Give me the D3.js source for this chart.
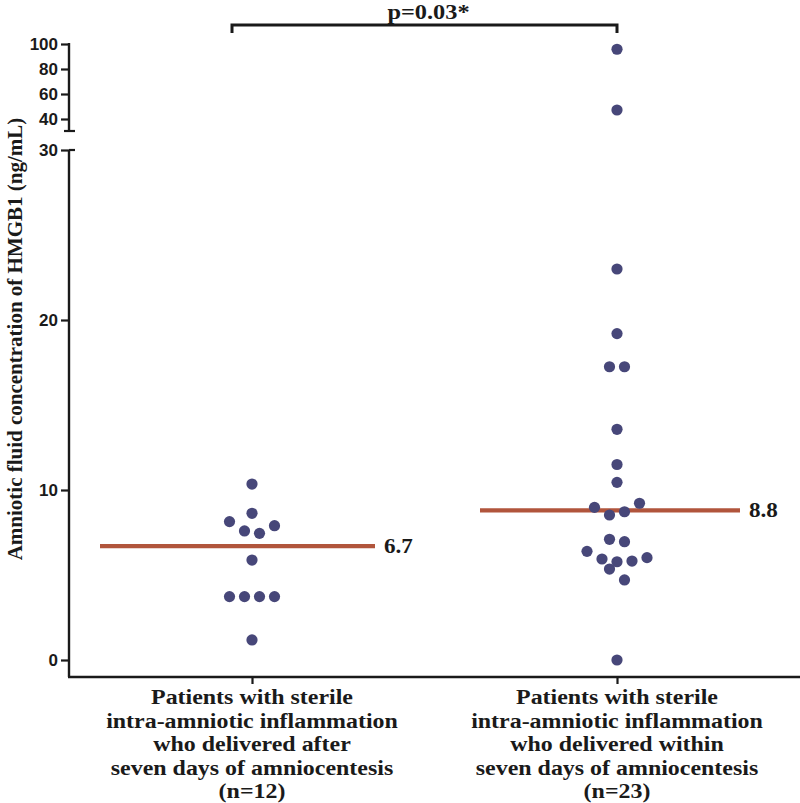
<!DOCTYPE html>
<html>
<head>
<meta charset="utf-8">
<script src="https://cdn.jsdelivr.net/npm/d3@7/dist/d3.min.js"></script>
<style>
  body { margin: 0; background: #fff; }
  svg { display: block; }
</style>
</head>
<body>
<div id="drawing"></div>
<script>
// values (ng/mL), array order = left-to-right within a row
var groups = ["after", "within"];
var groupLines = [
    ["Patients with sterile", "intra-amniotic inflammation", "who delivered after", "seven days of amniocentesis", "(n=12)"],
    ["Patients with sterile", "intra-amniotic inflammation", "who delivered within", "seven days of amniocentesis", "(n=23)"]
];
var afterValues = [1.18, 3.73, 3.73, 3.73, 3.73, 5.88, 8.14, 7.59, 7.45, 7.90, 8.63, 10.35];
var withinValues = [0, 5.35, 4.71, 6.39, 5.94, 5.78, 5.82, 6.02, 7.10, 6.96,
    8.98, 8.53, 8.72, 9.22, 10.45, 11.5, 13.57, 17.25, 17.25, 19.2, 23.0, 47.2, 95.8];
var medians = [6.7, 8.8];
var medianLabels = ["6.7", "8.8"];
var lowerTicks = [0, 10, 20, 30];
var upperTicks = [40, 60, 80, 100];
var pText = "p=0.03*";
var yTitle = "Amniotic fluid concentration of HMGB1 (ng/mL)";

var av;
(function (av) {
    var W = 800, H = 803;
    var axisX = 69, axisY = 677;
    var dotR = 5.6, step = 15;
    var svg;

    var x = d3.scalePoint().domain(groups).range([252, 617]);
    var yLow = d3.scaleLinear().domain([0, 30]).range([660, 150]);
    var yHigh = d3.scaleLinear().domain([40, 100]).range([119, 44]);
    function y(v) { return v > 30 ? yHigh(v) : yLow(v); }

    // rows of dots, spread sideways (GraphPad style column scatter)
    function swarm(values, g) {
        var idx = values.map(function (v, i) { return i; });
        idx.sort(function (a, b) { return values[a] - values[b] || a - b; });
        var rows = [], cur = null;
        idx.forEach(function (i) {
            var py = y(values[i]);
            if (cur && Math.abs(cur.y0 - py) < 12.5) cur.items.push(i);
            else { cur = { y0: py, items: [i] }; rows.push(cur); }
        });
        var out = [];
        rows.forEach(function (r) {
            r.items.sort(function (a, b) { return a - b; });
            var n = r.items.length;
            r.items.forEach(function (i, k) {
                out.push({ g: g, v: values[i], dx: (k - (n - 1) / 2) * step });
            });
        });
        return out;
    }

    function render() {
        var serif = "'Liberation Serif', 'Times New Roman', serif";
        var sans = "'Liberation Sans', Arial, sans-serif";
        var ink = "#1a1a1a";

        // lower y axis
        var la = svg.append("g").attr("transform", "translate(" + axisX + ",0)")
            .call(d3.axisLeft(yLow).tickValues(lowerTicks).tickSize(8).tickSizeOuter(0).tickPadding(3));
        // upper y axis
        var ua = svg.append("g").attr("transform", "translate(" + axisX + ",0)")
            .call(d3.axisLeft(yHigh).tickValues(upperTicks).tickSize(8).tickSizeOuter(0).tickPadding(3));
        [la, ua].forEach(function (a) {
            a.select(".domain").remove();
            a.selectAll("line").attr("stroke", ink).attr("stroke-width", 2.2);
            a.selectAll("text").attr("font-family", sans).attr("font-weight", "bold")
                .attr("font-size", 17).attr("fill", ink);
        });
        // axis lines with the break marks
        svg.append("line").attr("x1", axisX).attr("x2", axisX)
            .attr("y1", yHigh(100) - 1).attr("y2", yHigh(40) + 12)
            .attr("stroke", ink).attr("stroke-width", 2.4);
        svg.append("line").attr("x1", axisX - 5).attr("x2", axisX + 6)
            .attr("y1", yHigh(40) + 12).attr("y2", yHigh(40) + 12)
            .attr("stroke", ink).attr("stroke-width", 2.2);
        svg.append("line").attr("x1", axisX).attr("x2", axisX)
            .attr("y1", yLow(30)).attr("y2", axisY)
            .attr("stroke", ink).attr("stroke-width", 2.4);
        svg.append("line").attr("x1", axisX).attr("x2", axisX + 6)
            .attr("y1", yLow(30)).attr("y2", yLow(30))
            .attr("stroke", ink).attr("stroke-width", 2.2);

        // x axis
        var xa = svg.append("g").attr("transform", "translate(0," + axisY + ")")
            .call(d3.axisBottom(x).tickSize(7).tickSizeOuter(0).tickFormat(""));
        xa.select(".domain").remove();
        xa.selectAll("line").attr("stroke", ink).attr("stroke-width", 2.2);
        svg.append("line").attr("x1", axisX - 1).attr("x2", W)
            .attr("y1", axisY).attr("y2", axisY)
            .attr("stroke", ink).attr("stroke-width", 2.6);

        // category labels (the source is stretched sideways a bit)
        groups.forEach(function (g, i) {
            var t = svg.append("text").attr("text-anchor", "middle")
                .attr("transform", "translate(" + x(g) + ",0) scale(1.14,1)")
                .attr("font-family", serif).attr("font-weight", "bold")
                .attr("font-size", 21).attr("fill", ink);
            groupLines[i].forEach(function (s, k) {
                t.append("tspan").attr("x", 0).attr("y", 704 + k * 23.6).text(s);
            });
        });

        // y title
        svg.append("text")
            .attr("transform", "translate(22,339) rotate(-90)")
            .attr("text-anchor", "middle")
            .attr("font-family", serif).attr("font-weight", "bold")
            .attr("font-size", 21).attr("fill", ink)
            .text(yTitle);

        // median lines
        var ml = [[x(groups[0]) - 152, x(groups[0]) + 123], [x(groups[1]) - 137, x(groups[1]) + 123]];
        groups.forEach(function (g, i) {
            svg.append("line")
                .attr("x1", ml[i][0]).attr("x2", ml[i][1])
                .attr("y1", yLow(medians[i])).attr("y2", yLow(medians[i]))
                .attr("stroke", "#b1553c").attr("stroke-width", 4.2);
            svg.append("text")
                .attr("transform", "translate(" + (ml[i][1] + 9) + "," + (yLow(medians[i]) + 7) + ") scale(1.1,1)")
                .attr("font-family", serif).attr("font-weight", "bold")
                .attr("font-size", 21).attr("fill", ink)
                .text(medianLabels[i]);
        });

        // dots
        var data = swarm(afterValues, groups[0]).concat(swarm(withinValues, groups[1]));
        svg.selectAll(".dot").data(data).enter()
            .append("circle").attr("class", "dot")
            .attr("cx", function (d) { return x(d.g) + d.dx; })
            .attr("cy", function (d) { return y(d.v); })
            .attr("r", dotR)
            .attr("fill", "#474779");

        // significance bracket
        var bx1 = x(groups[0]) - 20, bx2 = x(groups[1]), by = 25;
        svg.append("path")
            .attr("d", "M" + bx1 + "," + (by + 8) + "V" + by + "H" + bx2 + "V" + (by + 8))
            .attr("fill", "none").attr("stroke", ink).attr("stroke-width", 3);
        svg.append("text")
            .attr("transform", "translate(" + ((bx1 + bx2) / 2 + 4) + ",19) scale(1.16,1)")
            .attr("text-anchor", "middle")
            .attr("font-family", serif).attr("font-weight", "bold")
            .attr("font-size", 21).attr("fill", ink)
            .text(pText);
    }

    function main() {
        svg = d3.select("#drawing").append("svg").attr("width", W).attr("height", H);
        render();
    }
    av.main = main;
})(av || (av = {}));
av.main();
</script>
</body>
</html>
